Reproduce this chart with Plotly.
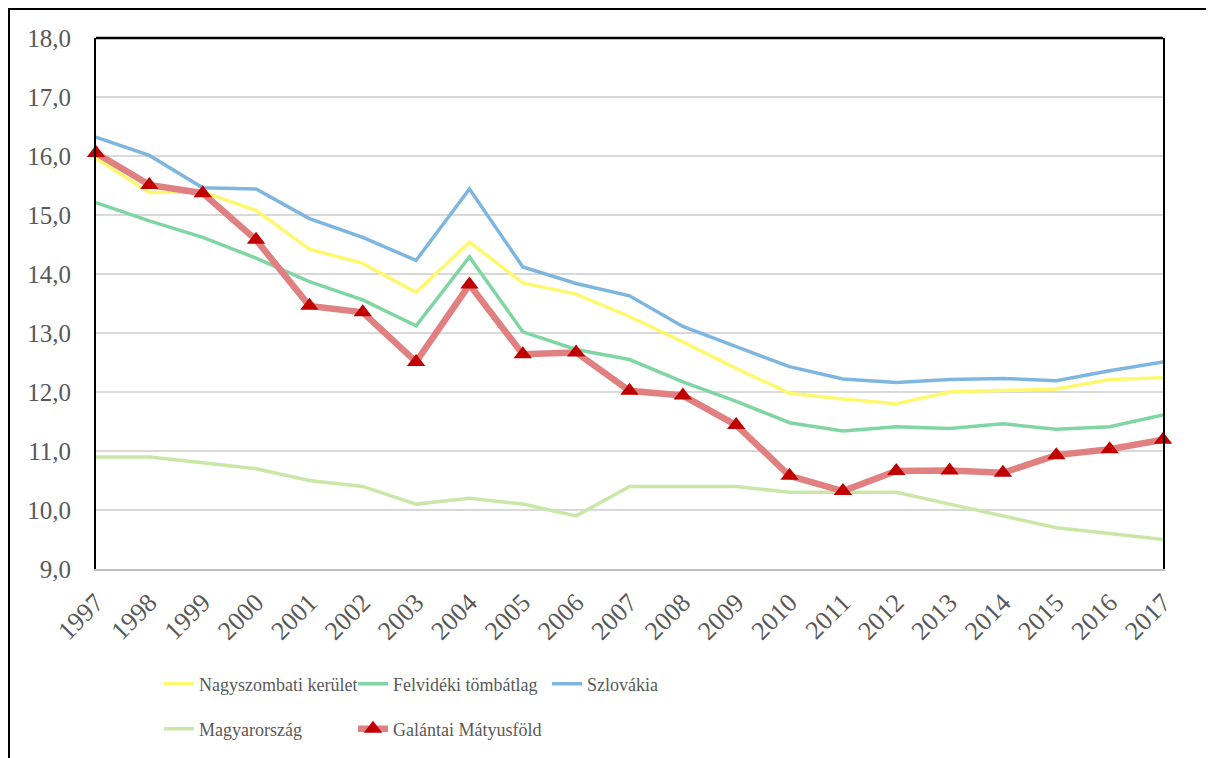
import plotly.graph_objects as go

years = list(range(1997, 2018))

nagyszombati = [15.96, 15.38, 15.39, 15.08, 14.42, 14.18, 13.69, 14.54, 13.85, 13.66, 13.28,
                12.85, 12.40, 11.98, 11.88, 11.80, 12.00, 12.02, 12.05, 12.21, 12.24]
felvideki = [15.21, 14.90, 14.62, 14.27, 13.87, 13.56, 13.12, 14.29, 13.02, 12.72, 12.55,
             12.17, 11.84, 11.48, 11.34, 11.41, 11.38, 11.46, 11.37, 11.41, 11.61]
szlovakia = [16.32, 16.01, 15.46, 15.44, 14.94, 14.62, 14.23, 15.44, 14.12, 13.84, 13.63,
             13.11, 12.77, 12.43, 12.22, 12.16, 12.21, 12.23, 12.19, 12.36, 12.51]
magyarorszag = [10.9, 10.9, 10.8, 10.7, 10.5, 10.4, 10.1, 10.2, 10.1, 9.9, 10.4,
                10.4, 10.4, 10.3, 10.3, 10.3, 10.1, 9.9, 9.7, 9.6, 9.5]
galantai = [16.05, 15.51, 15.37, 14.58, 13.46, 13.35, 12.51, 13.82, 12.64, 12.67, 12.02,
            11.94, 11.44, 10.58, 10.32, 10.66, 10.67, 10.63, 10.93, 11.03, 11.19]

y_ticks = [9, 10, 11, 12, 13, 14, 15, 16, 17, 18]
y_labels = ["9,0", "10,0", "11,0", "12,0", "13,0", "14,0", "15,0", "16,0", "17,0", "18,0"]

FONT = "Liberation Serif"
GRAY = "#595959"

fig = go.Figure()
fig.add_trace(go.Scatter(x=years, y=nagyszombati, mode="lines", name="Nagyszombati kerület",
                         line=dict(color="#FFF86E", width=3.5), legend="legend", cliponaxis=False))
fig.add_trace(go.Scatter(x=years, y=felvideki, mode="lines", name="Felvidéki tömbátlag",
                         line=dict(color="#80D6A2", width=3.5), legend="legend", cliponaxis=False))
fig.add_trace(go.Scatter(x=years, y=szlovakia, mode="lines", name="Szlovákia",
                         line=dict(color="#7EB6E0", width=3.5), legend="legend", cliponaxis=False))
fig.add_trace(go.Scatter(x=years, y=magyarorszag, mode="lines", name="Magyarország",
                         line=dict(color="#C9E7A7", width=3.5), legend="legend2", cliponaxis=False))
fig.add_trace(go.Scatter(x=years, y=galantai, mode="lines+markers", name="Galántai Mátyusföld",
                         line=dict(color="#E08080", width=6.5),
                         marker=dict(symbol="triangle-up", size=16, color="#C00000"),
                         legend="legend2", legendwidth=220, cliponaxis=False))

# The page is offset by the default 8px body margin; positions below are screen pixels.
OFF = 8
W, H = 1214, 758
L, R, T, B = 96 - OFF, W - (1163 - OFF), 38 - OFF, H - (569 - OFF)
pw, ph = W - L - R, H - T - B

def px_x(x):
    return (x - OFF - L) / pw

def px_y(y):
    return (H - B - (y - OFF)) / ph

legend_common = dict(orientation="h", xanchor="left", yanchor="middle",
                     font=dict(family=FONT, size=18, color=GRAY),
                     bgcolor="rgba(0,0,0,0)", entrywidth=149, entrywidthmode="pixels",
                     itemwidth=30, tracegroupgap=0)

fig.update_layout(
    width=W, height=H,
    margin=dict(l=L, r=R, t=T, b=B, autoexpand=False),
    paper_bgcolor="white", plot_bgcolor="white",
    font=dict(family=FONT, color=GRAY),
    legend=dict(x=px_x(159), y=px_y(684), **legend_common),
    legend2=dict(x=px_x(159), y=px_y(729), **legend_common),
    xaxis=dict(range=[1997, 2017], tickmode="array", tickvals=years,
               ticktext=[str(y) for y in years], tickangle=-45,
               tickfont=dict(family=FONT, size=26, color=GRAY), automargin=False,
               showgrid=False, zeroline=False, showline=True, linecolor="#BFBFBF", linewidth=2,
               ticks="outside", ticklen=6, tickcolor="rgba(0,0,0,0)"),
    yaxis=dict(range=[9, 18], tickmode="array", tickvals=y_ticks, ticktext=y_labels,
               tickfont=dict(family=FONT, size=25, color=GRAY), automargin=False,
               showgrid=True, gridcolor="#D9D9D9", gridwidth=2, zeroline=False,
               showline=True, linecolor="black", linewidth=2, mirror=True,
               ticks="outside", ticklen=18, tickcolor="rgba(0,0,0,0)"),
    shapes=[
        dict(type="line", xref="paper", yref="paper", x0=0, x1=1, y0=1, y1=1,
             line=dict(color="black", width=2.5)),
        dict(type="rect", xref="paper", yref="paper",
             x0=px_x(9), x1=px_x(1213), y0=px_y(9), y1=px_y(800),
             line=dict(color="black", width=2), fillcolor="rgba(0,0,0,0)", layer="below"),
    ],
)

fig.write_html("out.html")
